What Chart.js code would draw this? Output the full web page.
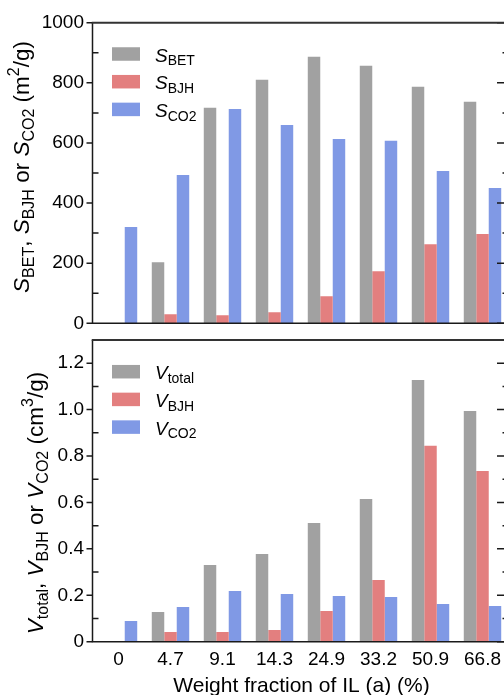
<!DOCTYPE html>
<html>
<head>
<meta charset="utf-8">
<script src="https://cdn.jsdelivr.net/npm/chart.js@4/dist/chart.umd.min.js"></script>
<style>
  html, body { margin: 0; padding: 0; overflow: hidden; background: #fff; width: 504px; height: 695px; }
  .panel { position: absolute; left: 0; }
</style>
</head>
<body>
<div class="panel" style="top:0px"><canvas id="topChart" width="512" height="335"></canvas></div>
<div class="panel" style="top:330px"><canvas id="bottomChart" width="512" height="365"></canvas></div>
<script>
// weight fraction of IL (a), %
const categories = ['0', '4.7', '9.1', '14.3', '24.9', '33.2', '50.9', '66.8'];

// surface areas, m2/g
const sBET = [0, 203, 717, 810, 887, 857, 787, 737];
const sBJH = [0, 30, 27, 37, 90, 173, 263, 297];
const sCO2 = [320, 493, 713, 660, 613, 607, 507, 450];

// pore volumes, cm3/g
const vTotal = [0, 0.128, 0.33, 0.378, 0.512, 0.615, 1.128, 0.994];
const vBJH = [0, 0.042, 0.042, 0.05, 0.132, 0.266, 0.844, 0.736];
const vCO2 = [0.089, 0.15, 0.218, 0.205, 0.197, 0.193, 0.162, 0.154];

const colors = ['#a1a1a1', '#e37f7f', '#8099e5'];
const FONT = "'Liberation Sans', Arial, sans-serif";

// rich text: [text, kind] kind = 'i' italic, 'n' normal, 'sub', 'sup'
function fontFor(kind, size) {
  if (kind === 'i') return 'italic ' + size + 'px ' + FONT;
  if (kind === 'sub' || kind === 'sup') return Math.round(size * 0.72) + 'px ' + FONT;
  return size + 'px ' + FONT;
}
function richWidth(ctx, parts, size) {
  let w = 0;
  parts.forEach(([t, k]) => { ctx.font = fontFor(k, size); w += ctx.measureText(t).width; });
  return w;
}
function drawRich(ctx, parts, x, y, size) {
  ctx.textAlign = 'left';
  ctx.textBaseline = 'alphabetic';
  parts.forEach(([t, k]) => {
    ctx.font = fontFor(k, size);
    let dy = 0;
    if (k === 'sub') dy = size * 0.2;
    if (k === 'sup') dy = -size * 0.45;
    ctx.fillText(t, x, y + dy);
    x += ctx.measureText(t).width;
  });
}

const frameAndText = {
  id: 'frameAndText',
  afterDraw(chart, args, opts) {
    const ctx = chart.ctx;
    const {left, right, top, bottom} = chart.chartArea;
    const y = chart.scales.y;
    ctx.save();
    ctx.strokeStyle = '#1a1a1a';
    ctx.lineWidth = 1.5;
    // ticks
    for (let v = 0; v <= opts.max + 1e-9; v += opts.minor) {
      const py = y.getPixelForValue(v);
      const isMajor = Math.abs(v / opts.major - Math.round(v / opts.major)) < 1e-6;
      ctx.beginPath();
      if (isMajor) { ctx.moveTo(left - 6, py); ctx.lineTo(left, py); }
      else { ctx.moveTo(left, py); ctx.lineTo(left + 6, py); }
      ctx.moveTo(right, py); ctx.lineTo(right - (isMajor ? 11.5 : 6), py);
      ctx.stroke();
    }
    // frame
    ctx.beginPath();
    ctx.moveTo(left, top); ctx.lineTo(left, bottom + 0.75);
    ctx.moveTo(left, bottom); ctx.lineTo(right, bottom);
    ctx.moveTo(right, bottom); ctx.lineTo(right, top);
    ctx.stroke();
    ctx.strokeStyle = '#333';
    ctx.lineWidth = 2;
    ctx.beginPath();
    ctx.moveTo(left - 0.75, top); ctx.lineTo(right, top);
    ctx.stroke();

    // legend
    opts.legend.forEach((parts, i) => {
      const cy = opts.legendTop + i * 27.7;
      ctx.fillStyle = chart.data.datasets[i].backgroundColor;
      ctx.fillRect(112, cy - 6.75, 28, 13.5);
      ctx.fillStyle = '#000';
      drawRich(ctx, parts, 155, cy + 7.5, 19);
    });

    // y title, rotated
    ctx.fillStyle = '#000';
    const w = richWidth(ctx, opts.yTitle, opts.titleSize);
    ctx.translate(opts.titleX, opts.titleCenter);
    ctx.rotate(-Math.PI / 2);
    drawRich(ctx, opts.yTitle, -w / 2, 0, opts.titleSize);
    ctx.restore();

    if (opts.xTitle) {
      ctx.save();
      ctx.fillStyle = '#000';
      ctx.font = '21px ' + FONT;
      ctx.textAlign = 'center';
      ctx.textBaseline = 'alphabetic';
      ctx.fillText(opts.xTitle, (left + right) / 2 + 1, chart.height - 3.5);
      ctx.restore();
    }
  }
};

function makeChart(id, series, yMax, step, showX, padTop, xHeight, extra) {
  return new Chart(document.getElementById(id), {
    type: 'bar',
    data: {
      labels: categories,
      datasets: series.map((d, i) => ({
        data: d,
        backgroundColor: colors[i],
        borderWidth: 0,
        categoryPercentage: 0.72,
        barPercentage: 1.0
      }))
    },
    options: {
      responsive: false,
      animation: false,
      layout: { padding: { top: padTop, right: 3.5, left: 0, bottom: 0 } },
      plugins: {
        legend: { display: false },
        tooltip: { enabled: false },
        frameAndText: extra
      },
      scales: {
        x: {
          grid: { display: false, drawTicks: false },
          border: { display: false },
          ticks: {
            display: showX,
            color: '#000',
            font: { family: FONT, size: 19 },
            padding: 7,
            maxRotation: 0,
            autoSkip: false
          },
          afterFit: s => { s.height = xHeight; s.paddingLeft = 0; s.paddingRight = 0; }
        },
        y: {
          min: 0,
          max: yMax,
          grid: { display: false, drawTicks: false },
          border: { display: false },
          ticks: {
            stepSize: step,
            includeBounds: false,
            color: '#000',
            font: { family: FONT, size: 19 },
            padding: 8.5,
            callback: v => (yMax < 10 ? (v === 0 ? '0' : v.toFixed(1)) : String(v))
          },
          afterFit: s => { s.width = 92.5; s.paddingTop = 0; s.paddingBottom = 0; }
        }
      }
    },
    plugins: [frameAndText]
  });
}

makeChart('topChart', [sBET, sBJH, sCO2], 1000, 200, false, 22.7, 335 - 323.3, {
  max: 1000, major: 200, minor: 100,
  legendTop: 54,
  legend: [[['S', 'i'], ['BET', 'sub']], [['S', 'i'], ['BJH', 'sub']], [['S', 'i'], ['CO2', 'sub']]],
  yTitle: [['S', 'i'], ['BET', 'sub'], [', ', 'n'], ['S', 'i'], ['BJH', 'sub'], [' or ', 'n'], ['S', 'i'], ['CO2', 'sub'], [' (m', 'n'], ['2', 'sup'], ['/g)', 'n']],
  titleSize: 22.5, titleX: 29, titleCenter: 167
});

makeChart('bottomChart', [vTotal, vBJH, vCO2], 1.3, 0.2, true, 10, 365 - 311.7, {
  max: 1.3, major: 0.2, minor: 0.1,
  legendTop: 41.7,
  legend: [[['V', 'i'], ['total', 'sub']], [['V', 'i'], ['BJH', 'sub']], [['V', 'i'], ['CO2', 'sub']]],
  yTitle: [['V', 'i'], ['total', 'sub'], [', ', 'n'], ['V', 'i'], ['BJH', 'sub'], [' or ', 'n'], ['V', 'i'], ['CO2', 'sub'], [' (cm', 'n'], ['3', 'sup'], ['/g)', 'n']],
  titleSize: 22.5, titleX: 43, titleCenter: 173,
  xTitle: 'Weight fraction of IL (a) (%)'
});
</script>
</body>
</html>
